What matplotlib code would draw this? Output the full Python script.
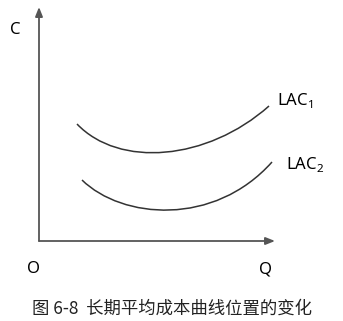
import matplotlib
matplotlib.use("Agg")
import matplotlib.pyplot as plt
from matplotlib.path import Path
from matplotlib.patches import PathPatch

plt.rcParams['mathtext.fontset'] = 'custom'
plt.rcParams['mathtext.rm'] = 'Noto Sans'

# Bezier control points of the two long-run average cost curves (Q, C)
lac1_q = [38, 80, 168, 230]
lac1_c = [117, 73, 80, 135]
lac2_q = [43, 83, 175, 233]
lac2_c = [61, 22, 14, 79]

curve_names = [r'LAC$_\mathregular{1}$', r'LAC$_\mathregular{2}$']
label_pos = [(238, 141), (247, 77)]
axis_names = ['C', 'O', 'Q']
caption = '图 6-8  长期平均成本曲线位置的变化'

W, H = 343, 321
fig = plt.figure(figsize=(W / 100, H / 100), dpi=100)
ax = fig.add_axes([39 / W, 80 / H, 236 / W, 234 / H])
ax.set_xlim(0, 236)
ax.set_ylim(0, 234)
ax.axis('off')

# axes with arrows
arrow = dict(arrowstyle='-|>,head_length=0.55,head_width=0.22', color='#555555',
             lw=1.3, shrinkA=0, shrinkB=0)
ax.annotate('', xy=(0, 234), xytext=(0, 0), arrowprops=arrow, annotation_clip=False)
ax.annotate('', xy=(236, 0), xytext=(0, 0), arrowprops=arrow, annotation_clip=False)

codes = [Path.MOVETO, Path.CURVE4, Path.CURVE4, Path.CURVE4]
for qs, cs in [(lac1_q, lac1_c), (lac2_q, lac2_c)]:
    path = Path(list(zip(qs, cs)), codes)
    ax.add_patch(PathPatch(path, facecolor='none', edgecolor='#333333', lw=1.1,
                           clip_on=False))

for name, (x, y) in zip(curve_names, label_pos):
    ax.text(x, y, name, fontsize=12, family='Noto Sans', ha='left', va='center',
            clip_on=False)

ax.text(-24, 211, axis_names[0], fontsize=12, family='Noto Sans', ha='center', va='center')
ax.text(-6, -28, axis_names[1], fontsize=12, family='Noto Sans', ha='center', va='center')
ax.text(227, -29, axis_names[2], fontsize=12, family='Noto Sans', ha='center', va='center')

fig.text(0.5, 1 - 309 / H, caption, fontsize=12.5, color='#222222',
         family=['Noto Sans CJK SC', 'DejaVu Sans'], ha='center', va='center')

fig.savefig('out.png', dpi=100)
